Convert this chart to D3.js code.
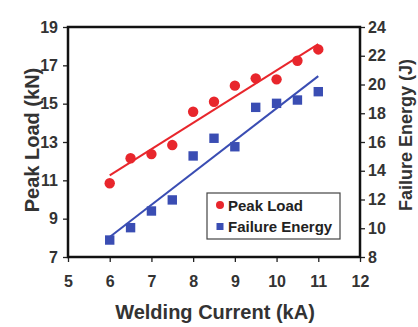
<!DOCTYPE html>
<html>
<head>
<meta charset="utf-8">
<script src="https://cdn.jsdelivr.net/npm/d3@7"></script>
<style>
  html, body { margin: 0; padding: 0; background: #fff; }
  svg { display: block; font-family: "Liberation Sans", Arial, sans-serif; font-weight: bold; }
</style>
</head>
<body>
<div id="chart"></div>
<script>
// welding current (kA)
const current = [6, 6.5, 7, 7.5, 8, 8.5, 9, 9.5, 10, 10.5, 11];
// peak load (kN), left axis
const peakLoad = [10.85, 12.15, 12.37, 12.84, 14.58, 15.1, 15.94, 16.32, 16.27, 17.24, 17.83];
// failure energy (J), right axis
const failureEnergy = [9.18, 10.04, 11.2, 11.97, 15.03, 16.26, 15.67, 18.41, 18.69, 18.92, 19.5];

const xTicks = [5, 6, 7, 8, 9, 10, 11, 12];
const yLeftTicks = [7, 9, 11, 13, 15, 17, 19];
const yRightTicks = [8, 10, 12, 14, 16, 18, 20, 22, 24];

const red = '#e8262c';
const blue = '#3a4db3';
const textColour = '#333';

const width = 418, height = 327;
const margin = { top: 27, right: 58, bottom: 70, left: 68 };
const w = width - margin.left - margin.right;
const h = height - margin.top - margin.bottom;

const svg = d3.select('#chart').append('svg')
    .attr('width', width)
    .attr('height', height);

const g = svg.append('g')
    .attr('transform', 'translate(' + margin.left + ',' + margin.top + ')');

const x = d3.scaleLinear().domain([5, 12]).range([0, w]);
const yL = d3.scaleLinear().domain([7, 19]).range([h, 0]);
const yR = d3.scaleLinear().domain([8, 24]).range([h, 0]);

function styleAxis(axis) {
    axis.selectAll('text')
        .attr('fill', textColour)
        .style('font-size', '16px')
        .style('font-weight', 'bold');
    axis.selectAll('line').attr('stroke', '#222').attr('stroke-width', 1.3);
    axis.select('.domain').remove();
}

const xAxis = g.append('g')
    .attr('transform', 'translate(0,' + h + ')')
    .call(d3.axisBottom(x).tickValues(xTicks).tickFormat(d3.format('d')).tickSize(5).tickPadding(14));
styleAxis(xAxis);

const yAxisL = g.append('g')
    .call(d3.axisLeft(yL).tickValues(yLeftTicks).tickFormat(d3.format('d')).tickSize(5).tickPadding(5));
styleAxis(yAxisL);

const yAxisR = g.append('g')
    .attr('transform', 'translate(' + w + ',0)')
    .call(d3.axisRight(yR).tickValues(yRightTicks).tickFormat(d3.format('d')).tickSize(5).tickPadding(3));
styleAxis(yAxisR);

// frame
g.append('rect')
    .attr('width', w)
    .attr('height', h)
    .attr('fill', 'none')
    .attr('stroke', '#111')
    .attr('stroke-width', 2.5);

// least squares trend line
function fit(xs, ys) {
    const mx = d3.mean(xs), my = d3.mean(ys);
    const sxy = d3.sum(xs, (v, i) => (v - mx) * (ys[i] - my));
    const sxx = d3.sum(xs, (v) => (v - mx) * (v - mx));
    const b = sxy / sxx;
    return (v) => my + b * (v - mx);
}

const fitL = fit(current, peakLoad);
const fitR = fit(current, failureEnergy);
const ends = d3.extent(current);

g.append('path')
    .datum(ends)
    .attr('fill', 'none')
    .attr('stroke', red)
    .attr('stroke-width', 2)
    .attr('d', d3.line().x((d) => x(d)).y((d) => yL(fitL(d))));

g.append('path')
    .datum(ends)
    .attr('fill', 'none')
    .attr('stroke', blue)
    .attr('stroke-width', 2)
    .attr('d', d3.line().x((d) => x(d)).y((d) => yR(fitR(d))));

g.selectAll('.peak')
    .data(current)
    .enter()
    .append('circle')
    .attr('cx', (d) => x(d))
    .attr('cy', (d, i) => yL(peakLoad[i]))
    .attr('r', 5.2)
    .attr('fill', red);

g.selectAll('.energy')
    .data(current)
    .enter()
    .append('rect')
    .attr('x', (d) => x(d) - 4.7)
    .attr('y', (d, i) => yR(failureEnergy[i]) - 4.7)
    .attr('width', 9.4)
    .attr('height', 9.4)
    .attr('fill', blue);

// legend
const legend = svg.append('g').attr('transform', 'translate(207,193)');
legend.append('rect')
    .attr('width', 133)
    .attr('height', 46)
    .attr('fill', '#fff')
    .attr('stroke', '#444')
    .attr('stroke-width', 1.2);
legend.append('circle').attr('cx', 13).attr('cy', 12).attr('r', 4).attr('fill', red);
legend.append('rect').attr('x', 9.5).attr('y', 30).attr('width', 7).attr('height', 7).attr('fill', blue);
legend.append('text').attr('x', 21).attr('y', 18)
    .attr('fill', '#222').style('font-size', '15px').text('Peak Load');
legend.append('text').attr('x', 21).attr('y', 39)
    .attr('fill', '#222').style('font-size', '15px').text('Failure Energy');

// axis titles
svg.append('text')
    .attr('x', margin.left + w / 2 + 1)
    .attr('y', 319)
    .attr('text-anchor', 'middle')
    .attr('fill', textColour)
    .style('font-size', '20px')
    .text('Welding Current (kA)');

svg.append('text')
    .attr('transform', 'translate(39,140) rotate(-90)')
    .attr('text-anchor', 'middle')
    .attr('fill', textColour)
    .style('font-size', '20px')
    .text('Peak Load (kN)');

svg.append('text')
    .attr('transform', 'translate(412,135) rotate(-90)')
    .attr('text-anchor', 'middle')
    .attr('fill', textColour)
    .style('font-size', '18px')
    .text('Failure Energy (J)');
</script>
</body>
</html>
